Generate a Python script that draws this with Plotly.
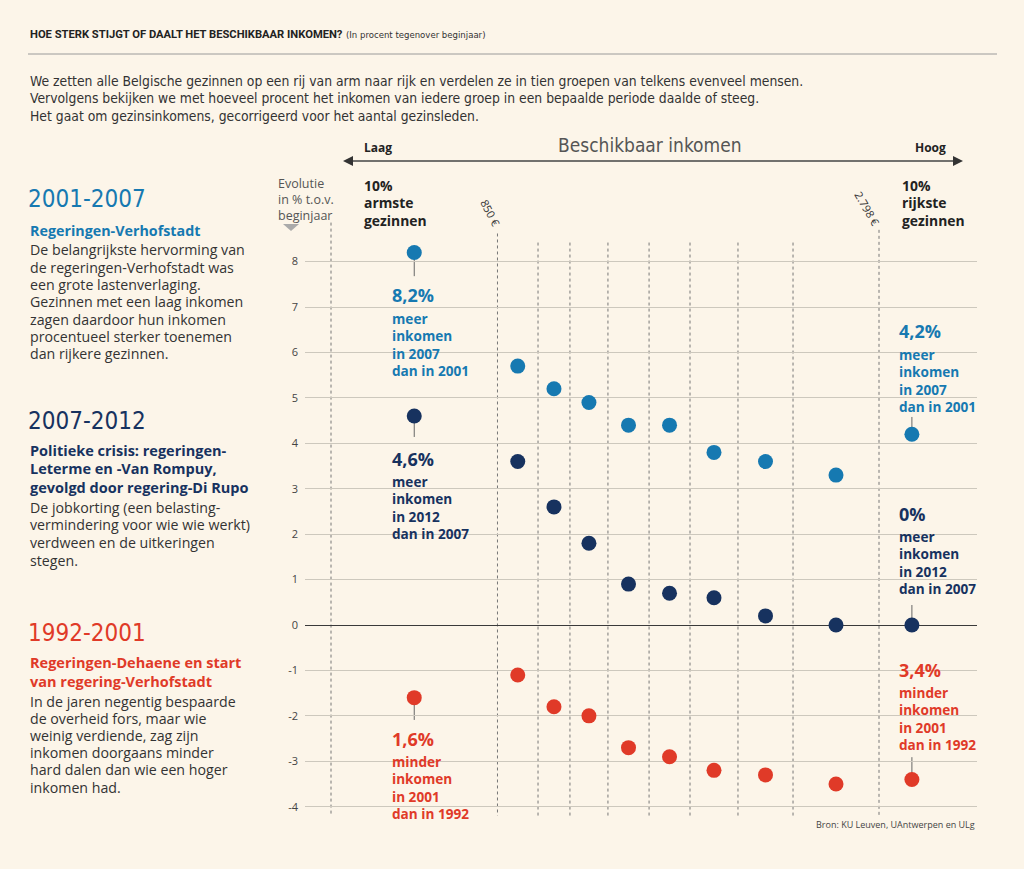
import plotly.graph_objects as go

# ---------------- data ----------------
deciles = ["1", "2", "3", "4", "5", "6", "7", "8", "9", "10"]
# income boundaries of the deciles (euro), dotted lines
boundaries = [0, 850, 1057, 1220, 1414, 1624, 1833, 2078, 2359, 2798]
upper_end = 3134  # notional upper end of top decile (for dot placement)
boundary_labels = {850: "850 €", 2798: "2.798 €"}

vals_2001_2007 = [8.2, 5.7, 5.2, 4.9, 4.4, 4.4, 3.8, 3.6, 3.3, 4.2]
vals_2007_2012 = [4.6, 3.6, 2.6, 1.8, 0.9, 0.7, 0.6, 0.2, 0.0, 0.0]
vals_1992_2001 = [-1.6, -1.1, -1.8, -2.0, -2.7, -2.9, -3.2, -3.3, -3.5, -3.4]
y_ticks = [-4, -3, -2, -1, 0, 1, 2, 3, 4, 5, 6, 7, 8]

BLUE = "#1679b1"
NAVY = "#17325f"
RED = "#e03a28"
BG = "#fcf5e9"
TXT = "#2b2b2b"

edges = boundaries + [upper_end]
centers = [(edges[i] + edges[i + 1]) / 2 for i in range(len(boundaries))]

W, H = 1024, 869
def PX(x):
    return x / W
def PY(y):
    return 1 - y / H

fig = go.Figure()
for vals, col, name in [(vals_2001_2007, BLUE, "2001-2007"),
                        (vals_2007_2012, NAVY, "2007-2012"),
                        (vals_1992_2001, RED, "1992-2001")]:
    fig.add_trace(go.Scatter(x=centers, y=vals, mode="markers", name=name,
                             marker=dict(size=15, color=col, line=dict(width=0)),
                             hovertemplate="Decile %{text}: %{y}%<extra></extra>",
                             text=deciles))

shapes = []
# dotted boundary lines
tops = {0: 8.86, 850: 8.62, 2798: 8.7}
for b in boundaries:
    shapes.append(dict(type="line", xref="x", yref="y", x0=b, x1=b,
                       y0=tops.get(b, 8.42), y1=-4.2, layer="below",
                       line=dict(color="#777", width=1, dash="dot")))
# pointer lines
def ptr(i, vals, y_end):
    shapes.append(dict(type="line", xref="x", yref="y", x0=centers[i], x1=centers[i],
                       y0=vals[i], y1=y_end, layer="below",
                       line=dict(color="#666", width=1)))
ptr(0, vals_2001_2007, 7.68)
ptr(0, vals_2007_2012, 4.14)
ptr(0, vals_1992_2001, -2.09)
ptr(9, vals_2001_2007, 4.58)
ptr(9, vals_2007_2012, 0.44)
ptr(9, vals_1992_2001, -2.91)

# title rule
shapes.append(dict(type="line", xref="paper", yref="paper", x0=PX(28), x1=PX(997),
                   y0=PY(54), y1=PY(54), line=dict(color="#9a9a9a", width=1)))
# income arrow
shapes.append(dict(type="line", xref="paper", yref="paper", x0=PX(350), x1=PX(955),
                   y0=PY(161), y1=PY(161), line=dict(color="#444", width=1.5)))
def tri(pts, col):
    p = "M " + " L ".join(f"{PX(a):.5f},{PY(b):.5f}" for a, b in pts) + " Z"
    shapes.append(dict(type="path", xref="paper", yref="paper", path=p,
                       fillcolor=col, line=dict(width=0)))
tri([(343, 161), (353, 156), (353, 166)], "#333")
tri([(963, 161), (953, 156), (953, 166)], "#333")
# small triangle under axis title
tri([(283, 224), (299, 224), (291, 231)], "#aaaaaa")

ann = []
def txt(x, y, s, size=13, color=TXT, family="Open Sans", xanchor="left",
        yanchor="middle", align="left", angle=0):
    ann.append(dict(x=PX(x), y=PY(y), xref="paper", yref="paper", text=s,
                    showarrow=False, xanchor=xanchor, yanchor=yanchor, align=align,
                    textangle=angle, font=dict(size=size, color=color, family=family)))

def lines(x, y0, step, items, size, color, bold=False, family="Open Sans"):
    for i, s in enumerate(items):
        txt(x, y0 + i * step, f"<b>{s}</b>" if bold else s, size=size, color=color,
            family=family)

NARROW = "Liberation Sans Narrow, DejaVu Sans Condensed, sans-serif"
# title
txt(28, 34, "<b>HOE STERK STIJGT OF DAALT HET BESCHIKBAAR INKOMEN?</b>", size=11.2,
    color="#222", family="Roboto")
txt(344, 34, "(In procent tegenover beginjaar)", size=9.5, color="#333", family=NARROW)
# intro
intro = ["We zetten alle Belgische gezinnen op een rij van arm naar rijk en verdelen ze in tien groepen van telkens evenveel mensen.",
         "Vervolgens bekijken we met hoeveel procent het inkomen van iedere groep in een bepaalde periode daalde of steeg.",
         "Het gaat om gezinsinkomens, gecorrigeerd voor het aantal gezinsleden."]
lines(28, 81, 17.5, intro, 13.8, "#333", family=NARROW)

# income arrow labels
txt(650, 145, "Beschikbaar inkomen", size=19, color="#555", family=NARROW, xanchor="center")
txt(362, 148, "<b>Laag</b>", size=12, color="#222")
txt(948, 148, "<b>Hoog</b>", size=12, color="#222", xanchor="right")

# left column
HEAD = NARROW
txt(26, 199, "2001-2007", size=24, color=BLUE, family=HEAD)
txt(28, 230, "<b>Regeringen-Verhofstadt</b>", size=14.3, color=BLUE)
lines(28, 250, 17.3, ["De belangrijkste hervorming van", "de regeringen-Verhofstadt was",
                      "een grote lastenverlaging.", "Gezinnen met een laag inkomen",
                      "zagen daardoor hun inkomen", "procentueel sterker toenemen",
                      "dan rijkere gezinnen."], 14.2, "#333")
txt(26, 421, "2007-2012", size=24, color=NAVY, family=HEAD)
lines(28, 450, 18.5, ["Politieke crisis: regeringen-", "Leterme en -Van Rompuy,",
                      "gevolgd door regering-Di Rupo"], 14.5, NAVY, bold=True)
lines(28, 507, 17.7, ["De jobkorting (een belasting-", "vermindering voor wie wie werkt)",
                      "verdween en de uitkeringen", "stegen."], 14.2, "#333")
txt(26, 633, "1992-2001", size=24, color=RED, family=HEAD)
lines(28, 662, 19, ["Regeringen-Dehaene en start", "van regering-Verhofstadt"], 14.5, RED,
      bold=True)
lines(28, 701, 17.2, ["In de jaren negentig bespaarde", "de overheid fors, maar wie",
                      "weinig verdiende, zag zijn", "inkomen doorgaans minder",
                      "hard dalen dan wie een hoger", "inkomen had."], 14.2, "#333")

# axis title
lines(276, 183, 16, ["Evolutie", "in % t.o.v.", "beginjaar"], 12.5, "#555")
# decile group labels
lines(362, 185, 17.5, ["10%", "armste", "gezinnen"], 13.9, "#222", bold=True)
lines(900, 185, 17.5, ["10%", "rijkste", "gezinnen"], 13.9, "#222", bold=True)
# boundary labels (rotated)
txt(490, 213, boundary_labels[850], size=11, color="#333", xanchor="center", angle=62)
txt(867, 209, boundary_labels[2798], size=11, color="#333", xanchor="center", angle=60)

# callouts
def callout(x, ybig, ybody, big, body, col):
    txt(x, ybig - 2, f"<b>{big}</b>", size=18, color=col)
    lines(x, ybody + 1, 17.6, body, 13.6, col, bold=True)
callout(390, 297, 317, "8,2%", ["meer", "inkomen", "in 2007", "dan in 2001"], BLUE)
callout(390, 461, 480, "4,6%", ["meer", "inkomen", "in 2012", "dan in 2007"], NAVY)
callout(390, 741, 760, "1,6%", ["minder", "inkomen", "in 2001", "dan in 1992"], RED)
callout(897, 333, 353, "4,2%", ["meer", "inkomen", "in 2007", "dan in 2001"], BLUE)
callout(897, 516, 535, "0%", ["meer", "inkomen", "in 2012", "dan in 2007"], NAVY)
callout(897, 672, 691, "3,4%", ["minder", "inkomen", "in 2001", "dan in 1992"], RED)

# source
txt(977, 824, "Bron: KU Leuven, UAntwerpen en ULg", size=9, color="#444", xanchor="right")

# axes geometry (pixel mapping)
k = 2798 / (879 - 331)       # euro per pixel
ys = 45.42                    # pixels per percent
x_range = [(305 - 331) * k, (977 - 331) * k]
y_range = [(625 - 830) / ys, (625 - 200) / ys]

fig.update_layout(
    width=W, height=H,
    margin=dict(l=0, r=0, t=0, b=0),
    paper_bgcolor=BG, plot_bgcolor=BG,
    showlegend=False,
    shapes=shapes, annotations=ann,
    xaxis=dict(domain=[305 / W, 977 / W], range=x_range, showgrid=False,
               zeroline=False, showticklabels=False, showline=False, fixedrange=True),
    yaxis=dict(domain=[1 - 830 / H, 1 - 200 / H], range=y_range, tickvals=y_ticks,
               ticktext=[str(v) for v in y_ticks], showgrid=True, gridcolor="#cdc8bd",
               gridwidth=1, zeroline=True, zerolinecolor="#3a3a3a", zerolinewidth=1.3,
               showline=False, ticks="", ticklabelstandoff=6,
               tickfont=dict(size=11, color="#444", family="Open Sans"), fixedrange=True),
    font=dict(family="Open Sans"),
)

fig.write_html("out.html", config={"displayModeBar": False},
               post_script="document.body.style.margin='0';document.body.style.background='%s';" % BG)
